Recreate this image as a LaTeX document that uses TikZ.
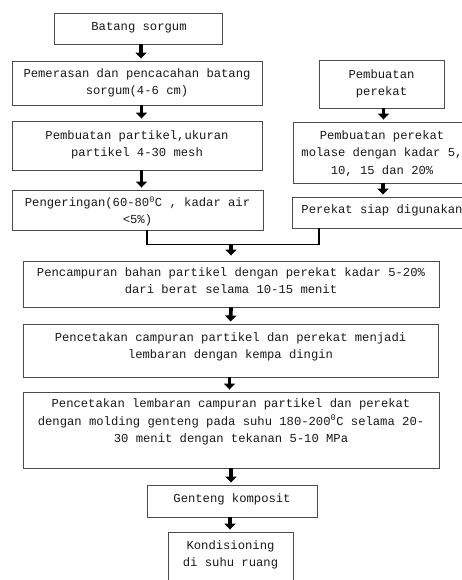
\documentclass[tikz,border=0pt]{standalone}
\usepackage{fontspec}
\setmainfont{Liberation Mono}
\usetikzlibrary{arrows.meta}
\tikzset{
  box/.style={draw=black!70, line width=0.9pt, rectangle, inner sep=0pt},
  txt/.style={align=center, inner sep=0pt, text=black!90, font=\fontsize{12.2}{17.3}\selectfont},
  arr/.style={line width=3.7pt, -{Triangle[width=11pt,length=6pt]}, shorten >=2pt},
  joinline/.style={line width=1.4pt, black}
}
\begin{document}
\begin{tikzpicture}[x=1pt,y=-1pt]
\useasboundingbox (0,0) rectangle (462,580);
\clip (0,0) rectangle (462,580);
% boxes
\node[box, minimum width=168pt, minimum height=31pt] (b1) at (138,28.5) {};
\node[box, minimum width=250pt, minimum height=44pt] (b2) at (137,83) {};
\node[box, minimum width=250pt, minimum height=49pt] (b3) at (137,145.5) {};
\node[box, minimum width=251pt, minimum height=40pt] (b4) at (137.5,210) {};
\node[box, minimum width=125pt, minimum height=48pt] (r1) at (381.5,84) {};
\node[box, minimum width=178pt, minimum height=61pt] (r2) at (382,152.5) {};
\node[box, minimum width=180pt, minimum height=31pt] (r3) at (382,212.5) {};
\node[box, minimum width=416pt, minimum height=46pt] (b5) at (231,284) {};
\node[box, minimum width=415pt, minimum height=53pt] (b6) at (230.5,350.5) {};
\node[box, minimum width=416pt, minimum height=76pt] (b7) at (231,430) {};
\node[box, minimum width=170pt, minimum height=32pt] (b8) at (232,501) {};
\node[box, minimum width=125pt, minimum height=68pt] (b9) at (230.5,566) {};
% texts
\node[txt] (t1) at (139,28) {Batang sorgum};
\node[txt] (t2) at (137,83) {Pemerasan dan pencacahan batang\\sorgum(4-6 cm)};
\node[txt] (t3) at (137,145) {Pembuatan partikel,ukuran\\partikel 4-30 mesh};
\node[txt] (t4) at (137.5,211.5) {Pengeringan(60-80\textsuperscript{0}C , kadar air\\<5\%)};
\node[txt] (tr1) at (381.5,83.5) {Pembuatan\\perekat};
\node[txt] (tr2) at (382,153.5) {Pembuatan perekat\\molase dengan kadar 5,\\10, 15 dan 20\%};
\node[txt] (tr3) at (382,210) {Perekat siap digunakan};
\node[txt] (t5) at (231,281) {Pencampuran bahan partikel dengan perekat kadar 5-20\%\\dari berat selama 10-15 menit};
\node[txt] (t6) at (230.5,346.5) {Pencetakan campuran partikel dan perekat menjadi\\lembaran dengan kempa dingin};
\node[txt] (t7) at (231,422) {Pencetakan lembaran campuran partikel dan perekat\\dengan molding genteng pada suhu 180-200\textsuperscript{0}C selama 20-\\30 menit dengan tekanan 5-10 MPa};
\node[txt] (t8) at (232,499) {Genteng komposit};
\node[txt] (t9) at (230.5,555) {Kondisioning\\di suhu ruang};
% arrows
\draw[arr] ([xshift=3pt]b1.south) -- ([xshift=3pt]b1.south |- b2.north);
\draw[arr] ([xshift=4.5pt]b2.south) -- ([xshift=4.5pt]b2.south |- b3.north);
\draw[arr] ([xshift=4.5pt]b3.south) -- ([xshift=4.5pt]b3.south |- b4.north);
\draw[arr] ([xshift=2pt]r1.south) -- ([xshift=2pt]r1.south |- r2.north);
\draw[arr] ([xshift=1pt]r2.south) -- ([xshift=1pt]r2.south |- r3.north);
\coordinate (ja) at ([xshift=9.5pt]b4.south);
\coordinate (jb) at ([xshift=-63pt]r3.south);
\coordinate (jl) at ([yshift=-14pt]ja);
\coordinate (jm) at (b5.north |- jl);
\draw[joinline] (ja) -- (jl) -- (jl -| jb) -- (jb);
\draw[arr, shorten >=5pt] (jm) -- (b5.north);
\draw[arr] (b5.south) -- (b6.north);
\draw[arr] ([xshift=-1pt]b6.south) -- ([xshift=-1pt]b6.south |- b7.north);
\draw[arr] (b7.south) -- (b7.south |- b8.north);
\draw[arr] ([xshift=-2pt]b8.south) -- ([xshift=-2pt]b8.south |- b9.north);
\end{tikzpicture}
\end{document}
